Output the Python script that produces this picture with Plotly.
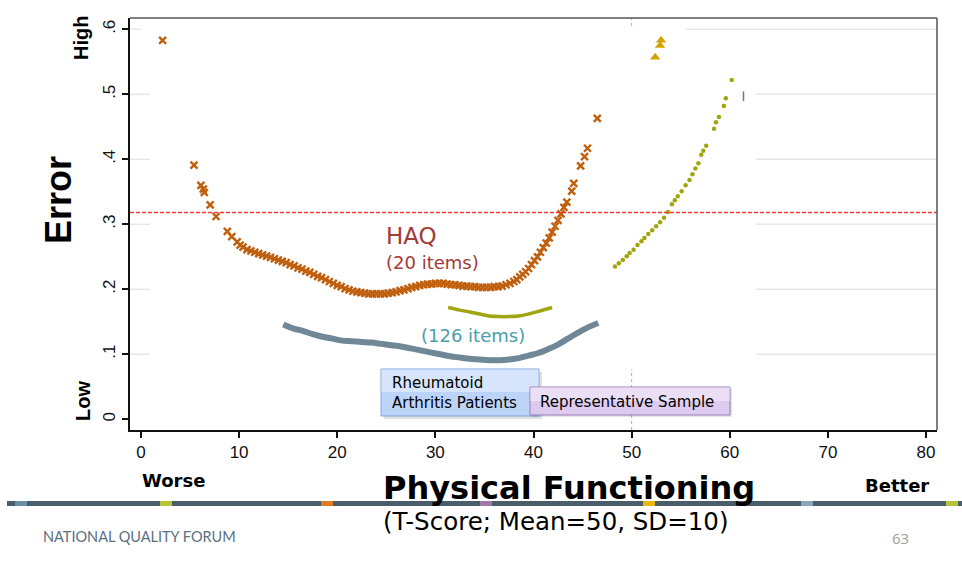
import plotly.graph_objects as go

# ---------------- data ----------------
haq_x = [2.2, 5.4, 6.1, 6.35, 6.45, 7.05, 7.65, 8.8, 9.25, 9.8, 10.1,
         10.4, 10.8, 11.2, 11.6, 12.0, 12.4, 12.8, 13.2, 13.6, 14.0, 14.4, 14.8,
         15.2, 15.6, 16.0, 16.4, 16.8, 17.2, 17.6, 18.0, 18.4, 18.8, 19.2, 19.6,
         20.0, 20.4, 20.8, 21.2, 21.6, 22.0, 22.4, 22.8, 23.2, 23.6, 24.0, 24.4,
         24.8, 25.2, 25.6, 26.0, 26.4, 26.8, 27.2, 27.6, 28.0, 28.4, 28.8, 29.2,
         29.6, 30.0, 30.4, 30.8, 31.2, 31.6, 32.0, 32.4, 32.8, 33.2, 33.6, 34.0,
         34.4, 34.8, 35.2, 35.6, 36.0, 36.4, 36.8, 37.2, 37.6, 38.0, 38.3, 38.6,
         38.9, 39.2, 39.5, 39.8, 40.1, 40.4, 40.7, 41.0, 41.3, 41.6, 41.9, 42.2,
         42.5, 42.8, 43.1, 43.4, 43.9, 44.1, 44.8, 45.2, 45.5, 46.5]
haq_y = [0.583, 0.391, 0.360, 0.354, 0.349, 0.330, 0.312, 0.289, 0.281, 0.273, 0.268,
         0.265, 0.261, 0.259, 0.257, 0.255, 0.253, 0.251, 0.249, 0.247, 0.245, 0.243, 0.241,
         0.238, 0.236, 0.233, 0.231, 0.228, 0.226, 0.223, 0.220, 0.218, 0.215, 0.212, 0.209,
         0.206, 0.204, 0.201, 0.199, 0.197, 0.196, 0.195, 0.194, 0.193, 0.193, 0.193, 0.193,
         0.193, 0.194, 0.195, 0.196, 0.198, 0.199, 0.201, 0.203, 0.204, 0.206, 0.207, 0.208,
         0.208, 0.209, 0.209, 0.209, 0.208, 0.207, 0.207, 0.206, 0.205, 0.205, 0.204, 0.204,
         0.203, 0.203, 0.203, 0.203, 0.204, 0.204, 0.205, 0.207, 0.209, 0.212, 0.215, 0.219,
         0.223, 0.227, 0.232, 0.238, 0.244, 0.250, 0.257, 0.264, 0.271, 0.279, 0.288, 0.297,
         0.306, 0.316, 0.326, 0.334, 0.351, 0.363, 0.390, 0.404, 0.417, 0.463]

cat126_x = [14.5, 15.5, 16.5, 17.5, 18.5, 19.5, 20.5, 21.5, 22.5, 23.5, 24.5, 25.5,
            26.5, 27.5, 28.5, 29.5, 30.5, 31.5, 32.5, 33.5, 34.5, 35.5, 36.5, 37.5,
            38.5, 39.5, 40.5, 41.5, 42.5, 43.5, 44.5, 45.5, 46.6]
cat126_y = [0.146, 0.140, 0.136, 0.131, 0.127, 0.124, 0.121, 0.120, 0.119, 0.118, 0.116, 0.114,
            0.112, 0.109, 0.106, 0.103, 0.100, 0.097, 0.095, 0.093, 0.092, 0.091, 0.091, 0.092,
            0.094, 0.098, 0.102, 0.108, 0.115, 0.124, 0.133, 0.141, 0.148]

rep_low_x = [31.3, 32.5, 33.5, 34.5, 35.5, 36.5, 37.5, 38.5, 39.5, 40.5, 41.9]
rep_low_y = [0.172, 0.168, 0.165, 0.162, 0.159, 0.158, 0.158, 0.159, 0.162, 0.166, 0.172]

rep_high_x = [48.3, 48.7, 49.1, 49.5, 49.8, 50.2, 50.6, 51.0, 51.3, 51.7, 52.1, 52.5, 52.9,
              53.3, 53.7, 54.1, 54.4, 54.7, 55.1, 55.5, 55.9, 56.2, 56.5, 56.8, 57.1, 57.3,
              57.6, 58.4, 58.6, 58.9, 59.4, 59.6, 60.2]
rep_high_y = [0.235, 0.240, 0.245, 0.251, 0.256, 0.261, 0.268, 0.274, 0.279, 0.285, 0.291,
              0.297, 0.303, 0.310, 0.319, 0.331, 0.337, 0.343, 0.351, 0.360, 0.368, 0.377,
              0.386, 0.394, 0.407, 0.413, 0.421, 0.447, 0.457, 0.465, 0.482, 0.494, 0.522]

tri_x = [52.4, 52.9, 53.0]
tri_y = [0.557, 0.575, 0.583]

mark_x = [61.4]
mark_y = [0.497]

threshold = 0.318
ref_x = 50

x_ticks = [0, 10, 20, 30, 40, 50, 60, 70, 80]
y_ticks = [0, 0.1, 0.2, 0.3, 0.4, 0.5, 0.6]
y_ticktext = ["0", ".1", ".2", ".3", ".4", ".5", ".6"]

# ---------------- layout helpers (pixel -> paper) ----------------
L, R, T, B = 130, 937, 18, 430
W, H = 962, 574


def px(xp):
    return (xp - L) / (R - L)


def py(yp):
    return (B - yp) / (B - T)


fig = go.Figure()

fig.add_trace(go.Scatter(x=cat126_x, y=cat126_y, mode="lines",
                         line=dict(color="#6f8797", width=6, shape="spline"),
                         hoverinfo="skip"))
fig.add_trace(go.Scatter(x=rep_low_x, y=rep_low_y, mode="lines",
                         line=dict(color="#a0a612", width=3.5, shape="spline"),
                         hoverinfo="skip"))
fig.add_trace(go.Scatter(x=rep_high_x, y=rep_high_y, mode="markers",
                         marker=dict(color="#9ea60c", size=4.5),
                         hoverinfo="skip"))
fig.add_trace(go.Scatter(x=haq_x, y=haq_y, mode="markers",
                         marker=dict(symbol="x-thin", size=7,
                                     line=dict(color="#c0600f", width=2.4)),
                         hoverinfo="skip"))
fig.add_trace(go.Scatter(x=tri_x, y=tri_y, mode="markers",
                         marker=dict(symbol="triangle-up", size=9, color="#d2a300"),
                         hoverinfo="skip"))
fig.add_trace(go.Scatter(x=mark_x, y=mark_y, mode="markers",
                         marker=dict(symbol="line-ns", size=7,
                                     line=dict(color="#5f7c9a", width=1.5)),
                         hoverinfo="skip"))

shapes = []
# gridline stubs (rest covered on the slide)
for v in y_ticks[1:]:
    shapes.append(dict(type="line", xref="paper", yref="y", x0=0, x1=px(142 if v == 0.6 else 150),
                       y0=v, y1=v, line=dict(color="#e6e6e6", width=1.5), layer="below"))
    shapes.append(dict(type="line", xref="paper", yref="y", x0=px(686 if v == 0.6 else 756), x1=1,
                       y0=v, y1=v, line=dict(color="#e6e6e6", width=1.5), layer="below"))
# reference vertical dotted line at 50
shapes.append(dict(type="line", xref="x", yref="paper", x0=ref_x, x1=ref_x, y0=py(26), y1=1,
                   line=dict(color="#b0b0b0", width=1, dash="dot"), layer="below"))
shapes.append(dict(type="line", xref="x", yref="paper", x0=ref_x, x1=ref_x, y0=0, y1=py(369),
                   line=dict(color="#b0b0b0", width=1, dash="dot"), layer="below"))
# threshold
shapes.append(dict(type="line", xref="paper", yref="y", x0=0, x1=1, y0=threshold, y1=threshold,
                   line=dict(color="#ff3535", width=1.5, dash="4px,2px"), layer="above"))
# frame top/right
shapes.append(dict(type="line", xref="paper", yref="paper", x0=0, x1=1, y0=1, y1=1,
                   line=dict(color="#555555", width=1.5)))
shapes.append(dict(type="line", xref="paper", yref="paper", x0=1, x1=1, y0=0, y1=1,
                   line=dict(color="#555555", width=1.5)))
# boxes: shadows then boxes
shapes.append(dict(type="rect", xref="paper", yref="paper", x0=px(384), x1=px(542), y0=py(419), y1=py(372),
                   fillcolor="rgba(0,0,0,0.12)", line=dict(width=0)))
shapes.append(dict(type="rect", xref="paper", yref="paper", x0=px(381), x1=px(539), y0=py(416), y1=py(369),
                   fillcolor="#bcd4f7", line=dict(color="#7ea3d8", width=1)))
shapes.append(dict(type="rect", xref="paper", yref="paper", x0=px(381.5), x1=px(538.5), y0=py(392), y1=py(369.5),
                   fillcolor="#d6e5fb", line=dict(width=0)))
shapes.append(dict(type="rect", xref="paper", yref="paper", x0=px(532), x1=px(732), y0=py(417), y1=py(389),
                   fillcolor="rgba(0,0,0,0.10)", line=dict(width=0)))
shapes.append(dict(type="rect", xref="paper", yref="paper", x0=px(530), x1=px(730), y0=py(415), y1=py(387),
                   fillcolor="#dccbee", line=dict(color="#9b7cbb", width=1)))
shapes.append(dict(type="rect", xref="paper", yref="paper", x0=px(530.5), x1=px(729.5), y0=py(401), y1=py(387.5),
                   fillcolor="#eadff6", line=dict(width=0)))
# bottom slide band
shapes.append(dict(type="rect", xref="paper", yref="paper", x0=px(7), x1=px(962), y0=py(506), y1=py(501),
                   fillcolor="#4a5d6b", line=dict(width=0)))
for x0, col in [(15, "#6a90aa"), (160, "#b7c43a"), (321, "#e07d22"), (480, "#a277aa"),
                (643, "#e8b90c"), (801, "#88a7bb"), (946, "#b7c43a")]:
    shapes.append(dict(type="rect", xref="paper", yref="paper", x0=px(x0), x1=px(x0 + 12),
                       y0=py(506), y1=py(501), fillcolor=col, line=dict(width=0)))

ann = []


def A(text, x, y, size, color="#000", family="DejaVu Sans", xanchor="center", angle=0, align="center"):
    ann.append(dict(text=text, x=px(x), y=py(y), xref="paper", yref="paper", showarrow=False,
                    xanchor=xanchor, yanchor="middle", textangle=angle, align=align,
                    font=dict(size=size, color=color, family=family)))


A("<b>Error</b>", 58, 200, 36, family="Liberation Sans", angle=-90)
A("<b>High</b>", 81, 38, 20, family="Liberation Sans", angle=-90)
A("<b>Low</b>", 83, 401, 20, family="Liberation Sans", angle=-90)
A("HAQ", 384, 236, 23, color="#a33b38", xanchor="left")
A("(20 items)", 384, 262, 18, color="#a33b38", xanchor="left")
A("(126 items)", 419, 335, 18, color="#4aa0a8", xanchor="left")
A("Rheumatoid<br>Arthritis Patients", 390, 393, 15, xanchor="left", align="left")
A("Representative Sample", 538, 402, 15, xanchor="left")
A("<b>Worse</b>", 173, 480, 18)
A("<b>Better</b>", 897, 485, 18)
A("<b>Physical Functioning</b>", 381, 488, 32, xanchor="left")
A("(T-Score; Mean=50, SD=10)", 381, 521, 24.5, xanchor="left")
A("NATIONAL QUALITY FORUM", 41, 536, 14.5, color="#5b6f80", family="Lato", xanchor="left")
A("63", 900, 538, 15, color="#a0a0a0", family="Open Sans")

fig.update_layout(
    width=W, height=H,
    margin=dict(l=L, r=W - R, t=T, b=H - B),
    paper_bgcolor="white", plot_bgcolor="white",
    showlegend=False,
    shapes=shapes, annotations=ann,
    xaxis=dict(range=[-1.12, 81.12], tickvals=x_ticks, ticks="outside", ticklen=6,
               tickwidth=1.5, tickcolor="#111", showgrid=False, zeroline=False,
               showline=True, linecolor="#111", linewidth=2,
               tickfont=dict(family="Liberation Sans", size=17, color="#111")),
    yaxis=dict(range=[-0.0165, 0.6174], tickvals=y_ticks, ticktext=y_ticktext, tickangle=-90,
               ticks="outside", ticklen=6, tickwidth=1.5, tickcolor="#111",
               showgrid=False, zeroline=False, showline=True, linecolor="#111", linewidth=2,
               tickfont=dict(family="Liberation Sans", size=17, color="#111")),
)

fig.write_html("out.html")
